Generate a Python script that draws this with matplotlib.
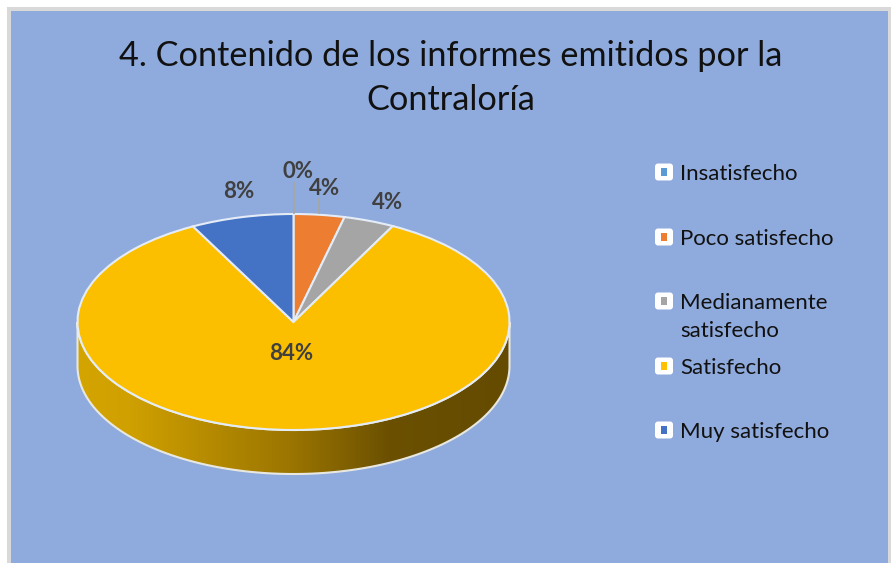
import matplotlib
matplotlib.use("Agg")
import matplotlib.pyplot as plt
from matplotlib.colors import LinearSegmentedColormap
from matplotlib.patches import FancyBboxPatch, Polygon, Rectangle
import numpy as np

plt.rcParams['font.family'] = ['Lato', 'DejaVu Sans']

title = "4. Contenido de los informes emitidos por la\nContraloría"
categories = ["Insatisfecho", "Poco satisfecho", "Medianamente\nsatisfecho", "Satisfecho", "Muy satisfecho"]
values = [0, 3.8, 3.8, 84.7, 7.7]
labels = ["0%", "4%", "4%", "84%", "8%"]
colors = ["#5B9BD5", "#ED7D31", "#A5A5A5", "#FBBF00", "#4472C4"]
legend_colors = ["#5B9BD5", "#ED7D31", "#A5A5A5", "#FFC000", "#4472C4"]

W, H = 891, 563


# the pie is squashed 2:1, so y data is twice the pixel height
def yy(py):
    return (H - py) * 2


fig = plt.figure(figsize=(W / 100, H / 100), dpi=100, facecolor="white")
ax = fig.add_axes([0, 0, 1, 1])

cx, cy, rx, depth = 293.5, 322, 216, 44

ax.pie(values, colors=colors, startangle=90, counterclock=False, center=(cx, yy(cy)), radius=rx,
       wedgeprops=dict(edgecolor="#E4ECF7", linewidth=1.5, zorder=5))

# background and frame
ax.add_patch(Rectangle((9, yy(9)), 881, -(H + 20) * 2, facecolor="#8FAADC", edgecolor="#D9D9D9",
                       linewidth=2.9, zorder=0))

# side wall of the pie
t = np.linspace(np.pi, 2 * np.pi, 200)
ex = cx + rx * np.cos(t)
ey = yy(cy) + rx * np.sin(t)
wall_pts = np.vstack([np.column_stack([ex, ey]),
                      np.column_stack([ex[::-1], ey[::-1] - depth * 2])])
wall = Polygon(wall_pts, closed=True, facecolor="none", edgecolor="#E8E8E0", linewidth=1.5, zorder=4)
ax.add_patch(wall)
cmap = LinearSegmentedColormap.from_list("wall", [(0, "#D4A400"), (0.12, "#CFA000"), (0.5, "#9A7400"),
                                                  (0.72, "#6B5000"), (1, "#644B00")])
img = ax.imshow(np.linspace(0, 1, 256).reshape(1, -1), cmap=cmap, aspect="auto", zorder=3,
                extent=(cx - rx, cx + rx, yy(cy + rx / 2 + depth), yy(cy)))
img.set_clip_path(wall)

ax.set_aspect("auto")
ax.set_xlim(0, W)
ax.set_ylim(0, H * 2)
ax.axis("off")

# leader lines of the two small labels
ax.plot([cx, cx], [yy(213), yy(183)], color="#A6A6A6", lw=1.3, zorder=6)
ax.plot([319, 319], [yy(213), yy(199)], color="#A6A6A6", lw=1.3, zorder=6)

label_x = [298, 325, 388, 291, 239]
label_y = [171.5, 188.5, 202.5, 353.5, 191.5]
for lab, lx, ly in zip(labels, label_x, label_y):
    ax.text(lx, yy(ly), lab, color="#404040", fontsize=16, fontweight="bold",
            ha="center", va="center", zorder=7)

ax.text(450.5, yy(78), title, color="#111111", fontsize=24.7, ha="center", va="center",
        linespacing=1.47, zorder=7)

# legend
legend_y = [172, 237, 301, 366, 430]
text_y = [174, 239, 317, 368, 432]
for name, col, ly, ty in zip(categories, legend_colors, legend_y, text_y):
    ax.add_patch(FancyBboxPatch((656.5, yy(ly + 7)), 15, 14 * 2, boxstyle="round,pad=1.5,rounding_size=3",
                                mutation_aspect=2, facecolor="white", edgecolor="none", zorder=6))
    ax.add_patch(Rectangle((661, yy(ly + 4)), 6, 8 * 2, facecolor=col, edgecolor="none", zorder=7))
    ax.text(680, yy(ty), name, color="#111111", fontsize=16, ha="left", va="center",
            linespacing=1.45, zorder=7)

fig.savefig("out.png", dpi=100, facecolor="white")
